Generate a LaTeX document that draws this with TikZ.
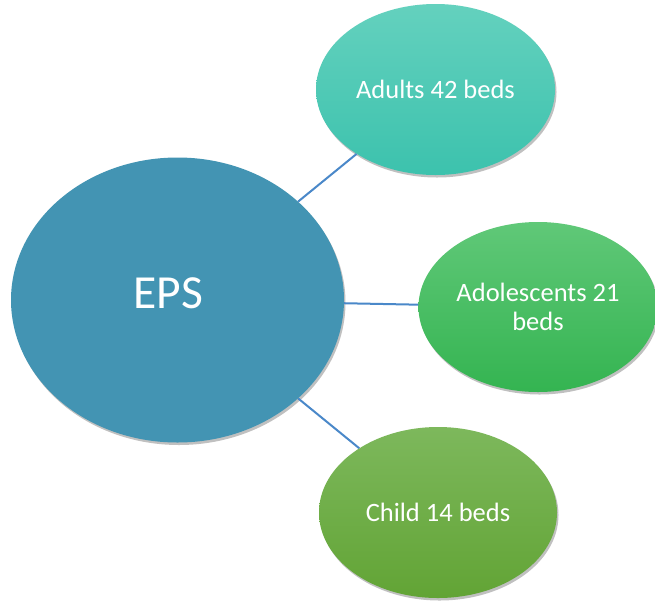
\documentclass[tikz,border=0pt]{standalone}
\usepackage{fontspec}
\setmainfont{Carlito}
\usetikzlibrary{shapes.geometric,shadows}
\definecolor{epsblue}{HTML}{4394B3}
\definecolor{adtop}{HTML}{64D1BE}
\definecolor{adbot}{HTML}{3CC2AD}
\definecolor{adoltop}{HTML}{60C878}
\definecolor{adolbot}{HTML}{34B451}
\definecolor{chtop}{HTML}{7DB85C}
\definecolor{chbot}{HTML}{62A435}
\definecolor{linkblue}{HTML}{4A88C9}
\tikzset{
  bubble/.style={ellipse, inner sep=0pt, text=white, align=center,
    drop shadow={shadow xshift=1.5pt, shadow yshift=-2.5pt, opacity=0.35, fill=black!70}},
  small/.style={font=\fontsize{26.5}{29}\selectfont},
  link/.style={draw=linkblue, line width=2pt}
}
\begin{document}
\begin{tikzpicture}[x=1pt,y=-1pt]
\useasboundingbox (0,0) rectangle (655,600);
\fill[white] (0,0) rectangle (655,600);
\node[bubble, fill=epsblue, minimum width=333pt, minimum height=285pt,
  label={[text=white, font=\fontsize{47.5}{57}\selectfont, xshift=-9pt, yshift=7pt]center:EPS}] (eps) at (177.5,300) {};
\node[bubble, small, top color=adtop, bottom color=adbot, minimum width=239pt, minimum height=171pt] (adults) at (435.5,89.5) {Adults 42 beds};
\node[bubble, small, top color=adoltop, bottom color=adolbot, minimum width=239pt, minimum height=170pt] (adol) at (538,307) {Adolescents 21\\beds};
\node[bubble, small, top color=chtop, bottom color=chbot, minimum width=238pt, minimum height=171pt] (child) at (438,512.5) {Child 14 beds};
\draw[link] (eps) -- (adults);
\draw[link] (eps) -- (adol);
\draw[link] (eps) -- (child);
\end{tikzpicture}
\end{document}
